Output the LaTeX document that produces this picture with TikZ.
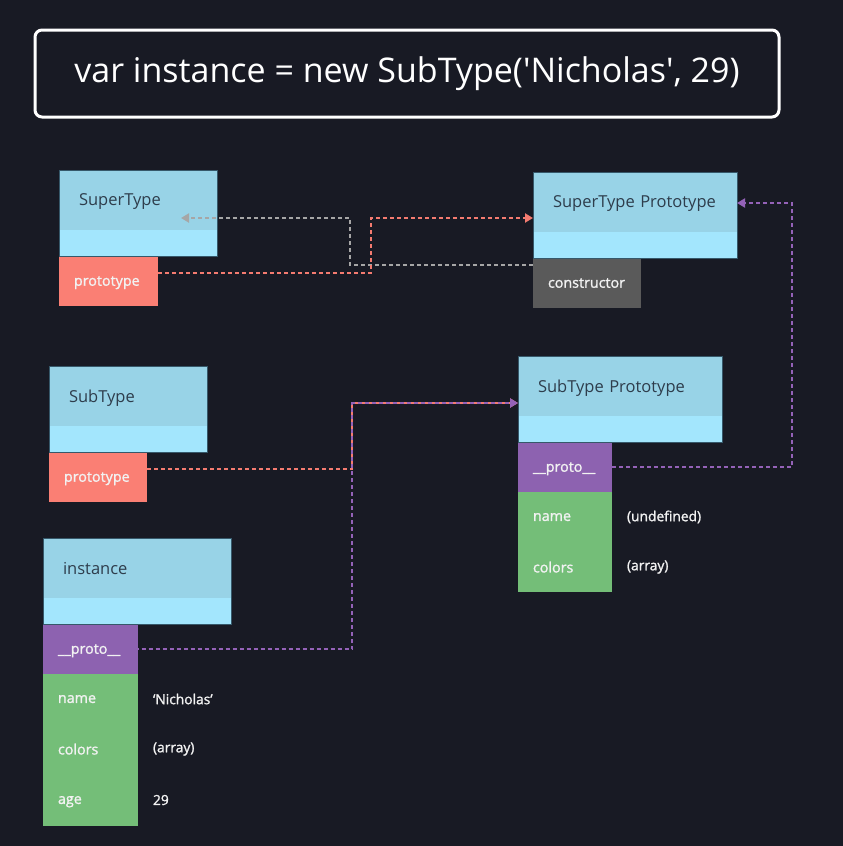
\documentclass[tikz,border=0pt]{standalone}
\usepackage{fontspec}
\setmainfont{Open Sans}
\newfontfamily\fieldfont{Open Sans}[FakeBold=1.4]
\usetikzlibrary{positioning, arrows.meta}
\definecolor{bgcol}{HTML}{181A24}
\definecolor{headcol}{HTML}{98D3E7}
\definecolor{bandcol}{HTML}{A3E6FD}
\definecolor{headtext}{HTML}{2E3D4C}
\definecolor{boxline}{HTML}{36586A}
\definecolor{protocol}{HTML}{FA7F74}
\definecolor{linkcol}{HTML}{8D62B0}
\definecolor{fieldcol}{HTML}{74BE78}
\definecolor{ctorcol}{HTML}{5A5A5A}
\definecolor{fieldtext}{HTML}{F2F2F2}
\definecolor{grayline}{HTML}{A6A6A6}
\definecolor{redline}{HTML}{F47B70}
\definecolor{purpleline}{HTML}{9462B8}
\tikzset{>={Triangle[length=8pt,width=9pt]}, % filled arrow heads
every node/.style={inner sep=0pt, outer sep=0pt},
head/.style={fill=headcol, text=headtext, font=\fontsize{16.5}{18}\selectfont, minimum height=60pt, text depth=0pt, align=left, inner xsep=20pt},
band/.style={fill=bandcol, minimum height=26pt},
field/.style={text=fieldtext, font=\fieldfont\fontsize{14.3}{16}\selectfont, minimum height=50pt, text depth=0pt, align=left, inner xsep=15pt},
value/.style={text=fieldtext, font=\fieldfont\fontsize{13.8}{16}\selectfont},
link/.style={->, line width=2pt, dash pattern=on 4pt off 3pt},
}

\begin{document}
\begin{tikzpicture}[x=1pt, y=-1pt]
  \fill[bgcol] (0,0) rectangle (843,846);
  \useasboundingbox (0,0) rectangle (843,846);

  \node[draw=white, line width=3pt, rounded corners=7pt, minimum width=744pt, minimum height=87pt,
        text=white, font=\fontsize{34}{40}\selectfont] (title) at (407,73.5) {var instance = new SubType(\textquotesingle Nicholas\textquotesingle, 29)};

  % SuperType
  \node[head, anchor=north west, text width=118pt] (super) at (59,170) {SuperType};
  \node[band, below right=0pt and 0pt of super.south west, minimum width=158pt] (superband) {};
  \node[field, fill=protocol, below right=0pt and 0pt of superband.south west, text width=69pt] (superproto) {prototype};
  \draw[boxline, line width=0.6pt] (super.north west) rectangle (superband.south east);

  % SuperType Prototype
  \node[head, anchor=north west, text width=164pt] (stp) at (533,172) {SuperType Prototype};
  \node[band, below right=0pt and 0pt of stp.south west, minimum width=204pt] (stpband) {};
  \node[field, fill=ctorcol, below right=0pt and 0pt of stpband.south west, text width=78pt] (ctor) {constructor};
  \draw[boxline, line width=0.6pt] (stp.north west) rectangle (stpband.south east);

  % SubType
  \node[head, anchor=north west, text width=118pt] (sub) at (49,366) {SubType};
  \node[band, below right=0pt and 0pt of sub.south west, minimum width=158pt] (subband) {};
  \node[field, fill=protocol, below right=0pt and 0pt of subband.south west, text width=68pt] (subproto) {prototype};
  \draw[boxline, line width=0.6pt] (sub.north west) rectangle (subband.south east);

  % SubType Prototype
  \node[head, anchor=north west, text width=164pt] (sbp) at (518,356) {SubType Prototype};
  \node[band, below right=0pt and 0pt of sbp.south west, minimum width=204pt] (sbpband) {};
  \node[field, fill=linkcol, below right=0pt and 0pt of sbpband.south west, text width=64pt] (sbpproto) {\_\_proto\_\_};
  \node[field, fill=fieldcol, below right=0pt and 0pt of sbpproto.south west, text width=64pt] (sbpname) {name};
  \node[field, fill=fieldcol, below right=0pt and 0pt of sbpname.south west, text width=64pt] (sbpcolors) {colors};
  \node[value, right=15pt of sbpname] (sbpnameval) {(undefined)};
  \node[value, right=15pt of sbpcolors] (sbpcolorsval) {(array)};
  \draw[boxline, line width=0.6pt] (sbp.north west) rectangle (sbpband.south east);

  % instance
  \node[head, anchor=north west, text width=148pt] (inst) at (43,538) {instance};
  \node[band, below right=0pt and 0pt of inst.south west, minimum width=188pt] (instband) {};
  \node[field, fill=linkcol, below right=0pt and 0pt of instband.south west, text width=65pt] (instproto) {\_\_proto\_\_};
  \node[field, fill=fieldcol, below right=0pt and 0pt of instproto.south west, text width=65pt] (instname) {name};
  \node[field, fill=fieldcol, below right=0pt and 0pt of instname.south west, text width=65pt] (instcolors) {colors};
  \node[field, fill=fieldcol, below right=0pt and 0pt of instcolors.south west, text width=65pt, minimum height=52pt] (instage) {age};
  \node[value, right=15pt of instname] (instnameval) {‘Nicholas’};
  \node[value, right=15pt of instcolors] (instcolorsval) {(array)};
  \node[value, right=15pt of instage] (instageval) {29};
  \draw[boxline, line width=0.6pt] (inst.north west) rectangle (instband.south east);

  % prototype links
  \draw[link, grayline] ([yshift=-7pt]ctor.north west) -| (350,218) -- ([xshift=-36pt, yshift=-18pt]super.east);
  \draw[link, redline] ([yshift=8pt]superproto.east) -| (371,218) -- ([yshift=-16pt]stp.west);
  \draw[link, purpleline] (sbpproto.east) -| (792,203) -- ([yshift=-1pt]stp.east);
  \draw[link, redline] ([yshift=8pt]subproto.east) -| (352,403) -- ([yshift=-17pt]sbp.west);
  \draw[link, purpleline, dash phase=3.5pt] (instproto.east) -| (352,403) -- ([yshift=-17pt]sbp.west);
\end{tikzpicture}
\end{document}
